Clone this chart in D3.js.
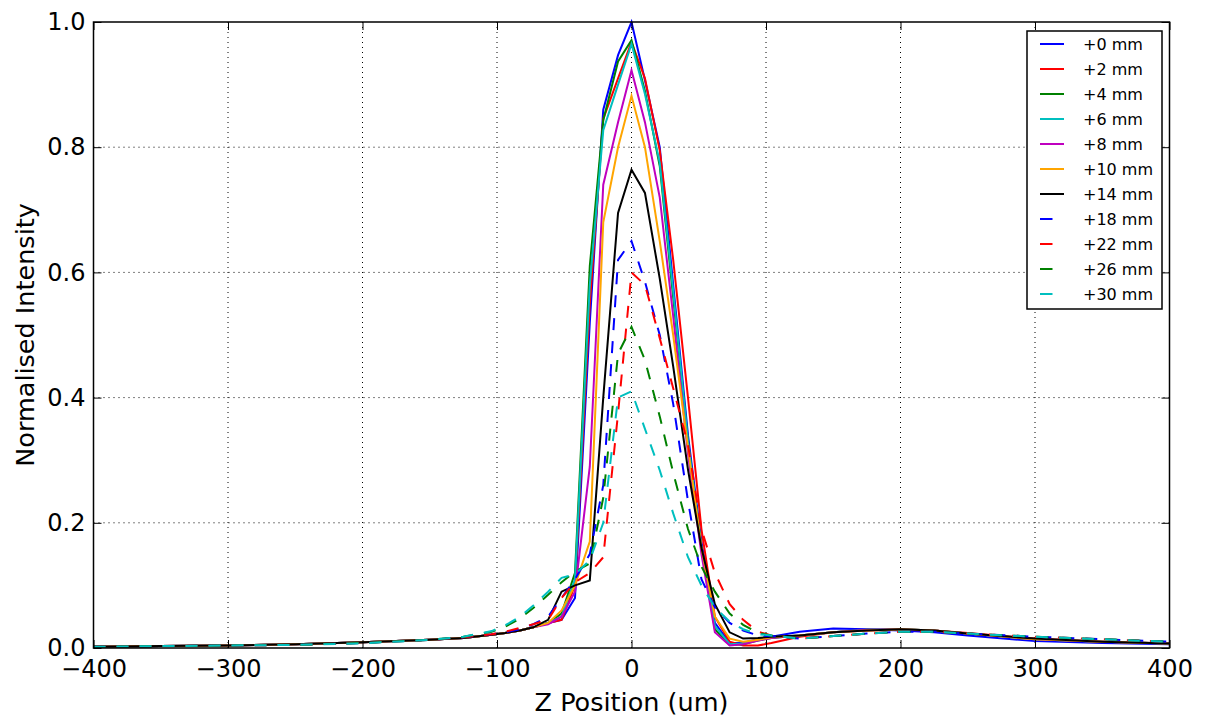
<!DOCTYPE html>
<html>
<head>
<meta charset="utf-8">
<script src="https://cdn.jsdelivr.net/npm/d3@7"></script>
<style>
  body { margin: 0; background: #fff; }
  svg { display: block; font-family: "DejaVu Sans", sans-serif; }
</style>
</head>
<body>
<div class="chart"></div>
<script>
// z positions (um), shared by every series
const zPos = [-400, -350, -300, -250, -200, -150, -125, -104, -94, -83, -73, -62, -52, -42, -31, -21, -10, 0,
  10, 21, 31, 42, 52, 62, 73, 83, 94, 104, 125, 150, 175, 200, 225, 250, 300, 350, 400];

const labels = ["+0 mm", "+2 mm", "+4 mm", "+6 mm", "+8 mm", "+10 mm", "+14 mm", "+18 mm", "+22 mm", "+26 mm", "+30 mm"];

const mm0 = [0.002, 0.003, 0.004, 0.006, 0.009, 0.013, 0.016, 0.021, 0.024, 0.028, 0.033, 0.04, 0.045, 0.08, 0.52, 0.86, 0.947, 1.0,
  0.907, 0.80, 0.58, 0.34, 0.17, 0.04, 0.008, 0.008, 0.014, 0.018, 0.026, 0.031, 0.03, 0.028, 0.025, 0.02, 0.011, 0.008, 0.006];
const mm2 = [0.002, 0.003, 0.004, 0.006, 0.009, 0.013, 0.016, 0.021, 0.024, 0.028, 0.033, 0.04, 0.045, 0.10, 0.55, 0.845, 0.91, 0.968,
  0.91, 0.795, 0.62, 0.40, 0.19, 0.05, 0.01, 0.004, 0.004, 0.008, 0.018, 0.025, 0.028, 0.029, 0.028, 0.024, 0.015, 0.01, 0.007];
const mm4 = [0.002, 0.003, 0.004, 0.006, 0.009, 0.013, 0.016, 0.021, 0.024, 0.028, 0.033, 0.04, 0.055, 0.12, 0.61, 0.843, 0.937, 0.971,
  0.89, 0.77, 0.56, 0.33, 0.16, 0.03, 0.005, 0.006, 0.012, 0.016, 0.02, 0.025, 0.029, 0.03, 0.028, 0.023, 0.014, 0.01, 0.007];
const mm6 = [0.002, 0.003, 0.004, 0.006, 0.009, 0.013, 0.016, 0.021, 0.024, 0.028, 0.033, 0.04, 0.05, 0.11, 0.58, 0.827, 0.90, 0.965,
  0.885, 0.775, 0.57, 0.33, 0.16, 0.035, 0.006, 0.007, 0.013, 0.017, 0.02, 0.025, 0.029, 0.03, 0.028, 0.023, 0.014, 0.01, 0.007];
const mm8 = [0.002, 0.003, 0.004, 0.006, 0.009, 0.013, 0.016, 0.021, 0.024, 0.028, 0.033, 0.038, 0.05, 0.09, 0.29, 0.74, 0.84, 0.923,
  0.84, 0.72, 0.53, 0.31, 0.15, 0.025, 0.004, 0.006, 0.012, 0.016, 0.02, 0.025, 0.029, 0.03, 0.028, 0.023, 0.014, 0.01, 0.007];
const mm10 = [0.002, 0.003, 0.004, 0.006, 0.009, 0.013, 0.016, 0.021, 0.024, 0.028, 0.033, 0.04, 0.06, 0.10, 0.17, 0.68, 0.80, 0.882,
  0.80, 0.65, 0.50, 0.32, 0.16, 0.05, 0.015, 0.01, 0.013, 0.017, 0.02, 0.025, 0.028, 0.03, 0.028, 0.023, 0.014, 0.01, 0.007];
const mm14 = [0.002, 0.003, 0.004, 0.006, 0.009, 0.013, 0.016, 0.021, 0.024, 0.028, 0.033, 0.045, 0.09, 0.10, 0.108, 0.40, 0.695, 0.764,
  0.727, 0.59, 0.45, 0.285, 0.16, 0.07, 0.025, 0.015, 0.016, 0.018, 0.02, 0.025, 0.028, 0.03, 0.028, 0.023, 0.015, 0.01, 0.007];
const mm18 = [0.002, 0.003, 0.004, 0.005, 0.008, 0.013, 0.017, 0.022, 0.025, 0.03, 0.038, 0.05, 0.08, 0.11, 0.15, 0.26, 0.62, 0.65,
  0.585, 0.50, 0.39, 0.235, 0.11, 0.065, 0.04, 0.028, 0.02, 0.019, 0.015, 0.019, 0.023, 0.026, 0.026, 0.023, 0.018, 0.014, 0.01];
const mm22 = [0.002, 0.003, 0.004, 0.005, 0.008, 0.013, 0.017, 0.022, 0.026, 0.032, 0.038, 0.045, 0.08, 0.105, 0.12, 0.145, 0.375, 0.60,
  0.58, 0.495, 0.415, 0.325, 0.19, 0.12, 0.07, 0.045, 0.026, 0.02, 0.015, 0.019, 0.023, 0.026, 0.026, 0.023, 0.018, 0.014, 0.01];
const mm26 = [0.002, 0.003, 0.004, 0.005, 0.008, 0.013, 0.018, 0.026, 0.034, 0.047, 0.064, 0.085, 0.105, 0.122, 0.135, 0.24, 0.47, 0.513,
  0.46, 0.37, 0.28, 0.19, 0.13, 0.09, 0.055, 0.037, 0.024, 0.02, 0.015, 0.019, 0.023, 0.026, 0.026, 0.023, 0.018, 0.014, 0.01];
const mm30 = [0.002, 0.003, 0.004, 0.005, 0.0075, 0.013, 0.018, 0.027, 0.036, 0.05, 0.068, 0.09, 0.112, 0.118, 0.14, 0.20, 0.40, 0.41,
  0.35, 0.284, 0.215, 0.145, 0.10, 0.065, 0.042, 0.03, 0.022, 0.02, 0.015, 0.019, 0.023, 0.026, 0.026, 0.023, 0.018, 0.014, 0.01];

const xTicks = [-400, -300, -200, -100, 0, 100, 200, 300, 400];
const yTicks = [0.0, 0.2, 0.4, 0.6, 0.8, 1.0];

const series = [mm0, mm2, mm4, mm6, mm8, mm10, mm14, mm18, mm22, mm26, mm30];
const colors = ["#0000ff", "#ff0000", "#008000", "#00bfbf", "#bf00bf", "#ffa500", "#000000",
  "#0000ff", "#ff0000", "#008000", "#00bfbf"];
const dashed = [false, false, false, false, false, false, false, true, true, true, true];

const width = 1207;
const height = 718;
const plotL = 93.5, plotR = 1169.5, plotT = 22, plotB = 648;

const svg = d3.select(".chart").append("svg")
  .attr("width", width)
  .attr("height", height);

const x = d3.scaleLinear().domain([-400, 400]).range([plotL, plotR]);
const y = d3.scaleLinear().domain([0, 1]).range([plotB, plotT]);

// dotted grid
const grid = svg.append("g");
grid.selectAll(".gx")
  .data(xTicks.slice(1, -1))
  .join("line")
  .attr("x1", d => x(d)).attr("x2", d => x(d))
  .attr("y1", plotT).attr("y2", plotB)
  .attr("stroke", "#000").attr("stroke-width", 1)
  .attr("stroke-dasharray", "1,4");
grid.selectAll(".gy")
  .data(yTicks.slice(1, -1))
  .join("line")
  .attr("x1", plotL).attr("x2", plotR)
  .attr("y1", d => y(d)).attr("y2", d => y(d))
  .attr("stroke", "#000").attr("stroke-width", 1)
  .attr("stroke-dasharray", "1,4");

// lines
const line = d3.line()
  .x((d, i) => x(zPos[i]))
  .y(d => y(d));

svg.append("g")
  .selectAll("path")
  .data(series)
  .join("path")
  .attr("d", d => line(d))
  .attr("fill", "none")
  .attr("stroke", (d, i) => colors[i])
  .attr("stroke-width", 2)
  .attr("stroke-dasharray", (d, i) => dashed[i] ? "12,11" : null);

// axes, ticks pointing inwards on every side
const tickLen = 8;
const tickFmt = d3.format(".1f");

const xb = svg.append("g").attr("transform", `translate(0,${plotB})`)
  .call(d3.axisBottom(x).tickValues(xTicks).tickSizeInner(-tickLen).tickSizeOuter(0));
const xt = svg.append("g").attr("transform", `translate(0,${plotT})`)
  .call(d3.axisTop(x).tickValues(xTicks).tickSizeInner(-tickLen).tickSizeOuter(0).tickFormat(""));
const yl = svg.append("g").attr("transform", `translate(${plotL},0)`)
  .call(d3.axisLeft(y).tickValues(yTicks).tickFormat(tickFmt).tickSizeInner(-tickLen).tickSizeOuter(0).tickPadding(8));
const yr = svg.append("g").attr("transform", `translate(${plotR},0)`)
  .call(d3.axisRight(y).tickValues(yTicks).tickSizeInner(-tickLen).tickSizeOuter(0).tickFormat(""));

[xb, xt, yl, yr].forEach(g => {
  g.select(".domain").remove();
  g.selectAll("line").attr("stroke", "#000").attr("stroke-width", 1);
  g.selectAll("text")
    .attr("fill", "#000")
    .style("font-size", "24px")
    .style("font-family", "'DejaVu Sans', sans-serif");
});
xb.selectAll("text").attr("dy", "0.71em").attr("y", 12);

// frame
svg.append("rect")
  .attr("x", plotL).attr("y", plotT)
  .attr("width", plotR - plotL).attr("height", plotB - plotT)
  .attr("fill", "none").attr("stroke", "#000").attr("stroke-width", 1.5);

// axis titles
svg.append("text")
  .attr("x", (plotL + plotR) / 2).attr("y", 711)
  .attr("text-anchor", "middle")
  .style("font-size", "25.5px")
  .text("Z Position (um)");
svg.append("text")
  .attr("transform", `translate(25,${(plotT + plotB) / 2}) rotate(-90)`)
  .attr("text-anchor", "middle")
  .attr("dominant-baseline", "central")
  .style("font-size", "25.5px")
  .text("Normalised Intensity");

// legend
const legend = svg.append("g").attr("transform", "translate(1027,31)");
legend.append("rect")
  .attr("width", 135).attr("height", 278)
  .attr("fill", "#fff").attr("stroke", "#000").attr("stroke-width", 1.5);
legend.selectAll(".legend-line")
  .data(labels)
  .join("line")
  .attr("x1", 13).attr("x2", (d, i) => dashed[i] ? 25.5 : 37)
  .attr("y1", (d, i) => 13 + i * 25).attr("y2", (d, i) => 13 + i * 25)
  .attr("stroke", (d, i) => colors[i])
  .attr("stroke-width", 2);
legend.selectAll(".legend-label")
  .data(labels)
  .join("text")
  .attr("x", 56)
  .attr("y", (d, i) => 13 + i * 25)
  .attr("dominant-baseline", "central")
  .style("font-size", "16px")
  .text(d => d);
</script>
</body>
</html>
